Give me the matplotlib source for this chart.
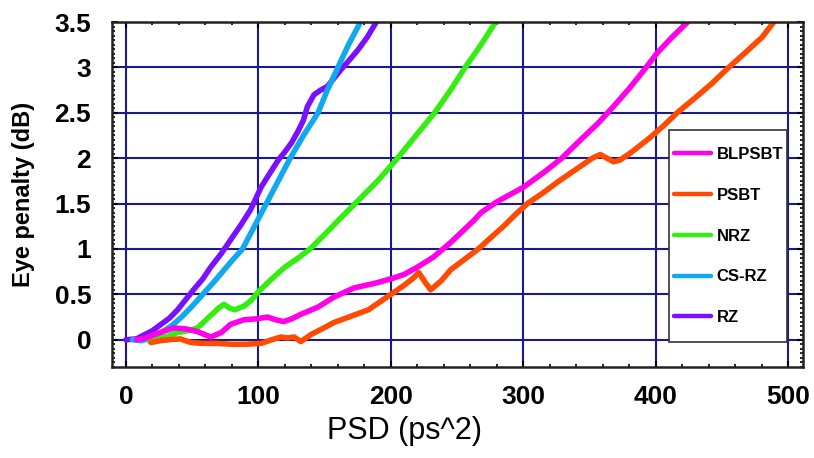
import matplotlib
matplotlib.use("Agg")
import matplotlib.pyplot as plt
from matplotlib.patches import Rectangle
from matplotlib.ticker import MultipleLocator, FuncFormatter

# eye penalty vs PSD
rz_x = [0, 8, 14, 20, 26, 33, 39, 45, 51, 58, 64, 72, 79, 87, 94, 102, 108, 115,
        120, 125, 130, 134, 137, 142, 147, 152, 157, 162, 168, 175, 182, 189]
rz_y = [0, 0.01, 0.055, 0.1, 0.165, 0.24, 0.33, 0.44, 0.55, 0.67, 0.80, 0.95, 1.10,
        1.27, 1.43, 1.68, 1.82, 1.98, 2.07, 2.17, 2.30, 2.42, 2.57, 2.70, 2.75, 2.79,
        2.88, 2.97, 3.07, 3.19, 3.33, 3.5]

csrz_x = [5, 12, 20, 27, 35, 42, 50, 58, 66, 73, 80, 88, 97, 106, 115, 124, 134,
          145, 152, 160, 168, 177]
csrz_y = [0, -0.01, 0.03, 0.08, 0.16, 0.25, 0.37, 0.5, 0.63, 0.75, 0.87, 1.0, 1.25,
          1.5, 1.75, 2.0, 2.25, 2.5, 2.75, 3.0, 3.25, 3.5]

nrz_x = [18, 25, 32, 39, 47, 54, 62, 70, 74, 78, 82, 89, 95, 100, 110, 120, 130, 139,
         150, 162, 173, 190, 205, 220, 233, 245, 256, 268, 279]
nrz_y = [-0.02, 0.01, 0.04, 0.08, 0.1, 0.13, 0.24, 0.35, 0.39, 0.35, 0.33, 0.37, 0.44,
         0.53, 0.67, 0.80, 0.90, 1.0, 1.16, 1.34, 1.5, 1.75, 2.0, 2.27, 2.5, 2.75, 3.0,
         3.25, 3.5]

blpsbt_x = [8, 15, 22, 30, 36, 45, 54, 64, 72, 79, 89, 98, 107, 113, 119, 125, 132,
            145, 157, 172, 190, 202, 210, 220, 232, 245, 263, 268, 280, 300, 316, 329,
            343, 356, 368, 380, 391, 401, 412, 424]
blpsbt_y = [0, 0.02, 0.06, 0.1, 0.13, 0.12, 0.09, 0.03, 0.08, 0.17, 0.22, 0.23, 0.25,
            0.22, 0.20, 0.23, 0.28, 0.36, 0.47, 0.57, 0.63, 0.68, 0.72, 0.80, 0.91, 1.07,
            1.32, 1.40, 1.52, 1.68, 1.85, 2.0, 2.20, 2.38, 2.57, 2.77, 2.97, 3.16, 3.33, 3.5]

psbt_x = [19, 26, 32, 41, 49, 58, 69, 80, 90, 102, 110, 117, 122, 127, 132, 140, 148,
          157, 170, 183, 192, 202, 210, 217, 221, 226, 230, 238, 245, 255, 266, 275,
          285, 294, 303, 315, 327, 340, 352, 358, 363, 368, 373, 381, 395, 406, 416,
          430, 442, 455, 468, 480, 489]
psbt_y = [-0.03, -0.01, 0.0, 0.01, -0.03, -0.04, -0.04, -0.05, -0.05, -0.04, 0.0, 0.03,
          0.02, 0.03, -0.02, 0.06, 0.12, 0.19, 0.26, 0.33, 0.42, 0.52, 0.60, 0.68, 0.74,
          0.63, 0.55, 0.65, 0.77, 0.88, 1.0, 1.12, 1.25, 1.38, 1.5, 1.62, 1.75, 1.88,
          2.0, 2.04, 2.0, 1.96, 1.98, 2.06, 2.22, 2.36, 2.5, 2.67, 2.82, 3.0, 3.17,
          3.33, 3.5]

series = [
    ("BLPSBT", blpsbt_x, blpsbt_y, "#ff00e8"),
    ("PSBT", psbt_x, psbt_y, "#ff4a00"),
    ("NRZ", nrz_x, nrz_y, "#33ee10"),
    ("CS-RZ", csrz_x, csrz_y, "#10a8ee"),
    ("RZ", rz_x, rz_y, "#7a10ff"),
]

plt.rcParams["font.family"] = ["Liberation Sans", "DejaVu Sans"]
GRID = "#1a1a8a"

fig = plt.figure(figsize=(8.14, 4.58), dpi=100)
ax = fig.add_axes([112 / 814, 1 - 367 / 458, 691 / 814, 345 / 458])

# draw in reverse so RZ ends up under the others like the original
for name, xs, ys, col in series[::-1]:
    ax.plot(xs, ys, color=col, lw=4, label=name, solid_capstyle="round",
            solid_joinstyle="round")

ax.set_xlim(-10.5, 511)
ax.set_ylim(-0.3, 3.5)
ax.xaxis.set_major_locator(MultipleLocator(100))
ax.xaxis.set_minor_locator(MultipleLocator(20))
ax.yaxis.set_major_locator(MultipleLocator(0.5))
ax.yaxis.set_minor_locator(MultipleLocator(0.05))
ax.yaxis.set_major_formatter(FuncFormatter(lambda v, _: f"{v:g}"))
ax.grid(True, which="major", color=GRID, lw=1.5)
ax.set_axisbelow(True)
ax.tick_params(which="both", direction="in", top=True, right=True, color="black")
ax.tick_params(which="major", length=4, width=1.5, labelsize=19)
ax.tick_params(axis="x", which="major", pad=13)
ax.tick_params(axis="y", which="major", pad=15)
ax.tick_params(which="minor", length=2.5, width=1.2)
for lab in ax.get_xticklabels() + ax.get_yticklabels():
    lab.set_fontweight("bold")
for sp in ax.spines.values():
    sp.set_linewidth(1.8)
    sp.set_color("#222222")

ax.set_xlabel("PSD (ps^2)", fontsize=22)
ax.xaxis.set_label_coords(0.424, -0.143)
ax.set_ylabel("Eye penalty (dB)", fontsize=17, fontweight="bold")
ax.yaxis.set_label_coords(-0.111, 0.5)

# legend: square white box drawn by hand so its size matches the original
box = Rectangle((0.806, 0.072), 0.171, 0.615, transform=ax.transAxes,
                facecolor="white", edgecolor="#333333", lw=1.2, zorder=4)
ax.add_patch(box)
handles, labels = ax.get_legend_handles_labels()
leg = ax.legend(handles[::-1], labels[::-1], loc="center left",
                bbox_to_anchor=(0.806, 0.3795), borderaxespad=0, frameon=False,
                handlelength=2.2, handletextpad=0.35, labelspacing=1.55,
                borderpad=0.3, prop={"size": 12, "weight": "bold"})
leg.set_zorder(5)
for h in leg.get_lines():
    h.set_linewidth(3.2)

fig.savefig("out.png", dpi=100, facecolor="white")
